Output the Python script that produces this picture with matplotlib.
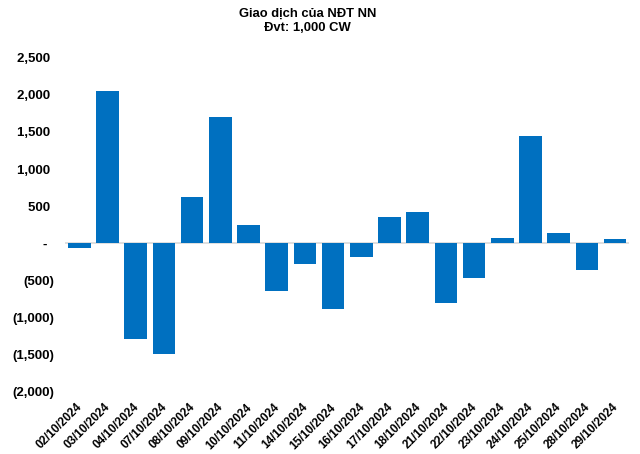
import matplotlib
matplotlib.use("Agg")
import matplotlib.pyplot as plt
import matplotlib.transforms as mtrans
from matplotlib.ticker import FuncFormatter

plt.rcParams['font.family'] = ['Liberation Sans', 'DejaVu Sans']
plt.rcParams['font.weight'] = 'bold'

# Data (1,000 CW)
dates = ["02/10/2024", "03/10/2024", "04/10/2024", "07/10/2024", "08/10/2024",
         "09/10/2024", "10/10/2024", "11/10/2024", "14/10/2024", "15/10/2024",
         "16/10/2024", "17/10/2024", "18/10/2024", "21/10/2024", "22/10/2024",
         "23/10/2024", "24/10/2024", "25/10/2024", "28/10/2024", "29/10/2024"]
values = [-60, 2050, -1295, -1490, 625,
          1700, 248, -640, -275, -880,
          -180, 355, 422, -800, -463,
          72, 1445, 140, -356, 58]
y_ticks = [-2000, -1500, -1000, -500, 0, 500, 1000, 1500, 2000, 2500]


def acct_fmt(v, pos=None):
    # Excel accounting style labels
    if v == 0:
        return "-  "
    if v < 0:
        return f"({abs(v):,.0f})"
    return f"{v:,.0f} "


fig = plt.figure(figsize=(6.4, 4.54), dpi=100)
ax = fig.add_axes([0.102, 0.1372, 0.881, 0.7355])

x = list(range(len(dates)))
ax.bar(x, values, width=0.8, color='#0070C0', zorder=2)
ax.axhline(0, color='#d9d9d9', linewidth=1.2, zorder=1)

ax.set_xlim(-0.5, len(dates) - 0.5)
ax.set_ylim(-2000, 2500)
ax.set_yticks(y_ticks)
ax.yaxis.set_major_formatter(FuncFormatter(acct_fmt))
ax.set_xticks(x)
ax.set_xticklabels(dates, rotation=45, ha='right', va='center', rotation_mode='anchor')

ax.tick_params(axis='y', length=0, pad=8, labelsize=9.5)
ax.tick_params(axis='x', length=0, pad=10, labelsize=8.5)
for s in ax.spines.values():
    s.set_visible(False)

# small nudge so the rotated date labels end right at the tick
shift = mtrans.ScaledTranslation(1 / 100, 0, fig.dpi_scale_trans)
for lbl in ax.get_xticklabels():
    lbl.set_transform(lbl.get_transform() + shift)

fig.text(0.481, 0.982, "Giao dịch của NĐT NN\nĐvt: 1,000 CW", ha='center', va='top',
         fontsize=9.4, fontweight='bold', linespacing=1.2)

fig.savefig("out.png", dpi=100)
